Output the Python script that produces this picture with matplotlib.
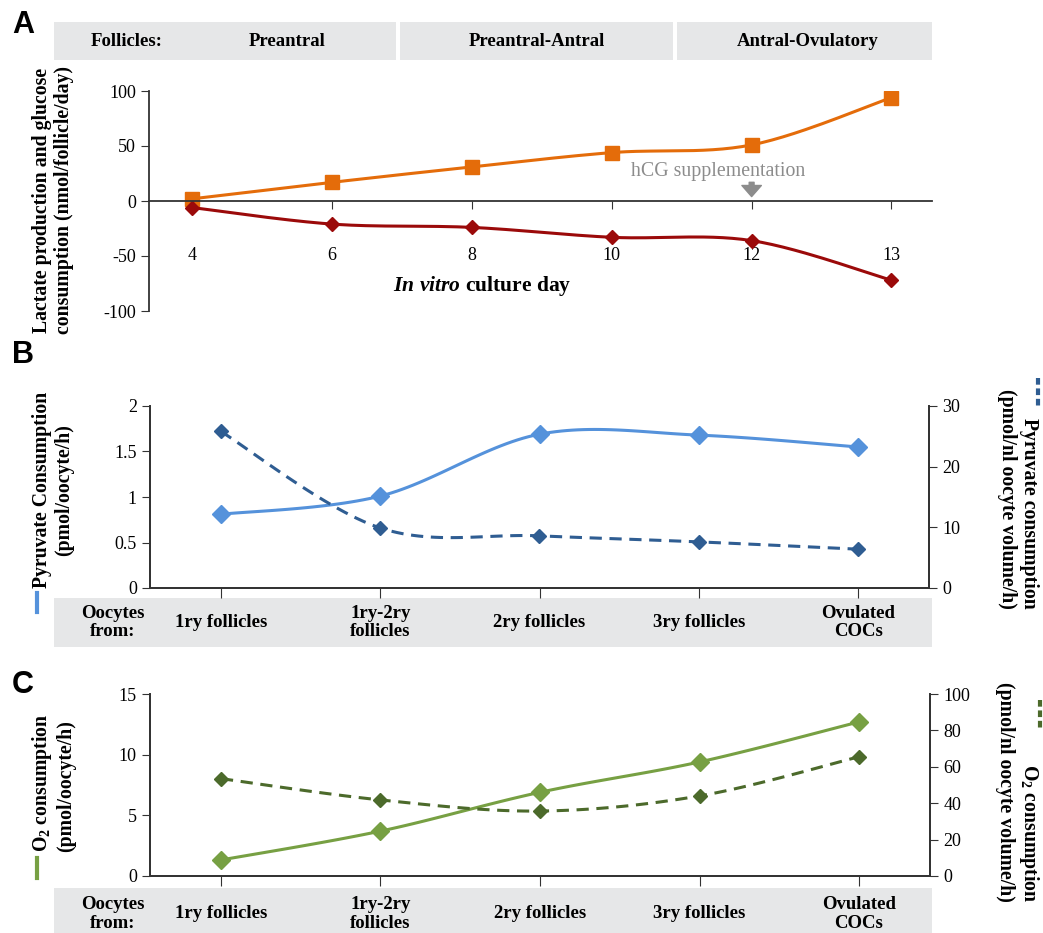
import numpy as np
import matplotlib
matplotlib.use("Agg")
import matplotlib.pyplot as plt
from matplotlib.patches import Rectangle
from matplotlib.lines import Line2D

plt.rcParams['font.family'] = ['Liberation Serif', 'DejaVu Serif']
plt.rcParams['axes.unicode_minus'] = False
plt.rcParams['mathtext.fontset'] = 'custom'
plt.rcParams['mathtext.rm'] = 'Liberation Serif:bold'
plt.rcParams['mathtext.it'] = 'Liberation Serif:italic:bold'
plt.rcParams['mathtext.bf'] = 'Liberation Serif:bold'

# ---- data ----
days = ["4", "6", "8", "10", "12", "13"]
lactate = [2, 17, 31, 44, 51, 94]
glucose = [-6, -21, -24, -33, -36, -72]
stages_a = ["Preantral", "Preantral-Antral", "Antral-Ovulatory"]

oocyte_groups = ["1ry follicles", "1ry-2ry\nfollicles", "2ry follicles", "3ry follicles", "Ovulated\nCOCs"]
pyruvate_oocyte = [0.81, 1.01, 1.69, 1.68, 1.55]
pyruvate_volume = [25.8, 9.9, 8.6, 7.6, 6.4]
o2_oocyte = [1.32, 3.7, 6.9, 9.4, 12.7]
o2_volume = [53.5, 41.8, 35.7, 44.0, 65.5]

W, H = 1043, 933
fig = plt.figure(figsize=(W / 100, H / 100), dpi=100)

GREY = "#E6E7E8"
ORANGE = "#E46C0A"
RED = "#9B0A0A"
BLUE = "#5592DB"
DBLUE = "#2F5D92"
GREEN = "#77A043"
DGREEN = "#4C6A2B"


def px_axes(l, t, r, b):
    return fig.add_axes([l / W, 1 - b / H, (r - l) / W, (b - t) / H])


def fx(x):
    return x / W


def fy(y):
    return 1 - y / H


def smooth(xs, ys, n=30):
    # Catmull-Rom style curve through the points (like Excel smoothed lines)
    xs = np.asarray(xs, float)
    ys = np.asarray(ys, float)
    P = np.column_stack([xs, ys])
    P = np.vstack([P[0], P, P[-1]])
    out = []
    for i in range(1, len(P) - 2):
        p0, p1, p2, p3 = P[i - 1], P[i], P[i + 1], P[i + 2]
        t = np.linspace(0, 1, n)[:, None]
        c1 = p1 + (p2 - p0) / 6
        c2 = p2 - (p3 - p1) / 6
        seg = (1 - t) ** 3 * p1 + 3 * (1 - t) ** 2 * t * c1 + 3 * (1 - t) * t ** 2 * c2 + t ** 3 * p2
        out.append(seg)
    out = np.vstack(out)
    return out[:, 0], out[:, 1]


def band(l, t, r, b):
    fig.add_artist(Rectangle((fx(l), fy(b)), fx(r) - fx(l), fy(t) - fy(b),
                             transform=fig.transFigure, color=GREY, lw=0, zorder=0))


TICK = 13
BOLD = dict(fontweight="bold", fontsize=13.5)
LAB = dict(fontweight="bold", fontsize=14.2, linespacing=1.15)

# ---------------- Panel A ----------------
fig.text(fx(12), fy(25), "A", fontsize=22, fontweight="bold", family="Liberation Sans", va="center")
band(54, 22, 396, 60)
band(400, 22, 673, 60)
band(677, 22, 932, 60)
fig.text(fx(127), fy(42), "Follicles:", ha="center", va="center", **BOLD)
for xc, s in zip([287, 537, 808], stages_a):
    fig.text(fx(xc), fy(42), s, ha="center", va="center", **BOLD)

axA = px_axes(149, 91, 932, 311)
xa = np.arange(len(days))
sx, sy = smooth(xa, lactate)
axA.plot(sx, sy, color=ORANGE, lw=2.2)
axA.plot(xa, lactate, "s", color=ORANGE, ms=10)
sx, sy = smooth(xa, glucose)
axA.plot(sx, sy, color=RED, lw=2.2)
axA.plot(xa, glucose, "D", color=RED, ms=7)
axA.set_xlim(-0.31, 5.29)
axA.set_ylim(-100, 100)
axA.spines["bottom"].set_position(("data", 0))
axA.spines["top"].set_visible(False)
axA.spines["right"].set_visible(False)
axA.set_xticks(xa)
axA.set_xticklabels(days, fontsize=TICK)
axA.tick_params(axis="x", direction="out", length=6, pad=27, color="#333333")
axA.set_yticks([-100, -50, 0, 50, 100])
axA.set_yticklabels(["-100", "-50", "0", "50", "100"], fontsize=TICK)
axA.tick_params(axis="y", direction="out", length=6, color="#333333")
for sp in axA.spines.values():
    sp.set_color("#333333")
    sp.set_linewidth(1.3)
axA.text(2.07, -77, r"$\mathit{In\ vitro}$ culture day", ha="center", va="center",
         fontsize=15.5, fontweight="bold")
axA.text(3.76, 26.5, "hCG supplementation", ha="center", va="center", fontsize=14.3, color="#8C8C8C")
axA.annotate("", xy=(4, 4), xytext=(4, 17),
             arrowprops=dict(width=3.5, headwidth=14, headlength=8, color="#8C8C8C", shrink=0))
fig.text(fx(53), fy(200), "Lactate production and glucose\nconsumption (nmol/follicle/day)",
         rotation=90, ha="center", va="center", **LAB)


# ---------------- Panels B and C ----------------
def twin_panel(top, bottom, right, left_vals, right_vals, lcol, rcol, lmax, lticks, lticklabels,
               rmax, rticks, band_top, band_bot):
    ax = px_axes(150, top, right, bottom)
    x = np.arange(len(oocyte_groups))
    sx, sy = smooth(x, left_vals)
    ax.plot(sx, sy, color=lcol, lw=2.2, zorder=3)
    ax.plot(x, left_vals, "D", color=lcol, ms=9, zorder=4)
    ax.set_xlim(-0.445, 4.445)
    ax.set_ylim(0, lmax)
    ax.set_yticks(lticks)
    ax.set_yticklabels(lticklabels, fontsize=TICK)
    ax.set_xticks(x)
    ax.set_xticklabels([])
    ax.tick_params(axis="x", direction="out", length=7, color="#333333")
    ax.tick_params(axis="y", direction="out", length=6, color="#333333")
    ax.spines["top"].set_visible(False)
    axr = ax.twinx()
    sx, sy = smooth(x, right_vals)
    axr.plot(sx, sy, color=rcol, lw=2.2, ls=(0, (4, 2.5)), zorder=3)
    axr.plot(x, right_vals, "D", color=rcol, ms=7, zorder=4)
    axr.set_ylim(0, rmax)
    axr.set_yticks(rticks)
    axr.set_yticklabels([str(v) for v in rticks], fontsize=TICK)
    axr.tick_params(axis="y", direction="out", length=6, color="#333333")
    axr.spines["top"].set_visible(False)
    for a in (ax, axr):
        for sp in a.spines.values():
            sp.set_color("#333333")
            sp.set_linewidth(1.3)
    band(54, band_top, 932, band_bot)
    yc = (band_top + band_bot) / 2
    fig.text(fx(113), fy(yc), "Oocytes\nfrom:", ha="center", va="center", linespacing=1.1, **BOLD)
    for i, s in enumerate(oocyte_groups):
        xpix = ax.transData.transform((i, 0))[0]
        fig.text(xpix / fig.dpi / fig.get_figwidth(), fy(yc), s, ha="center", va="center",
                 linespacing=1.1, **BOLD)
    return ax


fig.text(fx(12), fy(355), "B", fontsize=22, fontweight="bold", family="Liberation Sans", va="center")
twin_panel(406, 588, 929, pyruvate_oocyte, pyruvate_volume, BLUE, DBLUE,
           2, [0, 0.5, 1, 1.5, 2], ["0", "0.5", "1", "1.5", "2"], 30, [0, 10, 20, 30], 598, 647)
fig.text(fx(53), fy(490), "Pyruvate Consumption\n(pmol/oocyte/h)", rotation=90,
         ha="center", va="center", **LAB)
fig.add_artist(Line2D([fx(37), fx(37)], [fy(612), fy(593)], color=BLUE, lw=3, transform=fig.transFigure))
fig.text(fx(1018), fy(499), "Pyruvate consumption\n(pmol/nl oocyte volume/h)", rotation=-90,
         ha="center", va="center", multialignment="right", **LAB)
fig.add_artist(Line2D([fx(1038), fx(1038)], [fy(378), fy(406)], color=DBLUE, lw=3,
                      ls=(0, (1.6, 0.9)), solid_capstyle="butt", dash_capstyle="butt",
                      transform=fig.transFigure))

fig.text(fx(12), fy(685), "C", fontsize=22, fontweight="bold", family="Liberation Sans", va="center")
twin_panel(694, 876, 930, o2_oocyte, o2_volume, GREEN, DGREEN,
           15, [0, 5, 10, 15], ["0", "5", "10", "15"], 100, [0, 20, 40, 60, 80, 100], 888, 940)
fig.text(fx(53), fy(783), "O$_2$ consumption\n(pmol/oocyte/h)", rotation=90,
         ha="center", va="center", multialignment="left", **LAB)
fig.add_artist(Line2D([fx(37), fx(37)], [fy(878), fy(858)], color=GREEN, lw=3, transform=fig.transFigure))
fig.text(fx(1018), fy(792), "O$_2$ consumption\n(pmol/nl oocyte volume/h)", rotation=-90,
         ha="center", va="center", multialignment="right", **LAB)
fig.add_artist(Line2D([fx(1040), fx(1040)], [fy(700), fy(728)], color=DGREEN, lw=3,
                      ls=(0, (1.6, 0.9)), dash_capstyle="butt",
                      transform=fig.transFigure))

fig.savefig("out.png", dpi=100)
